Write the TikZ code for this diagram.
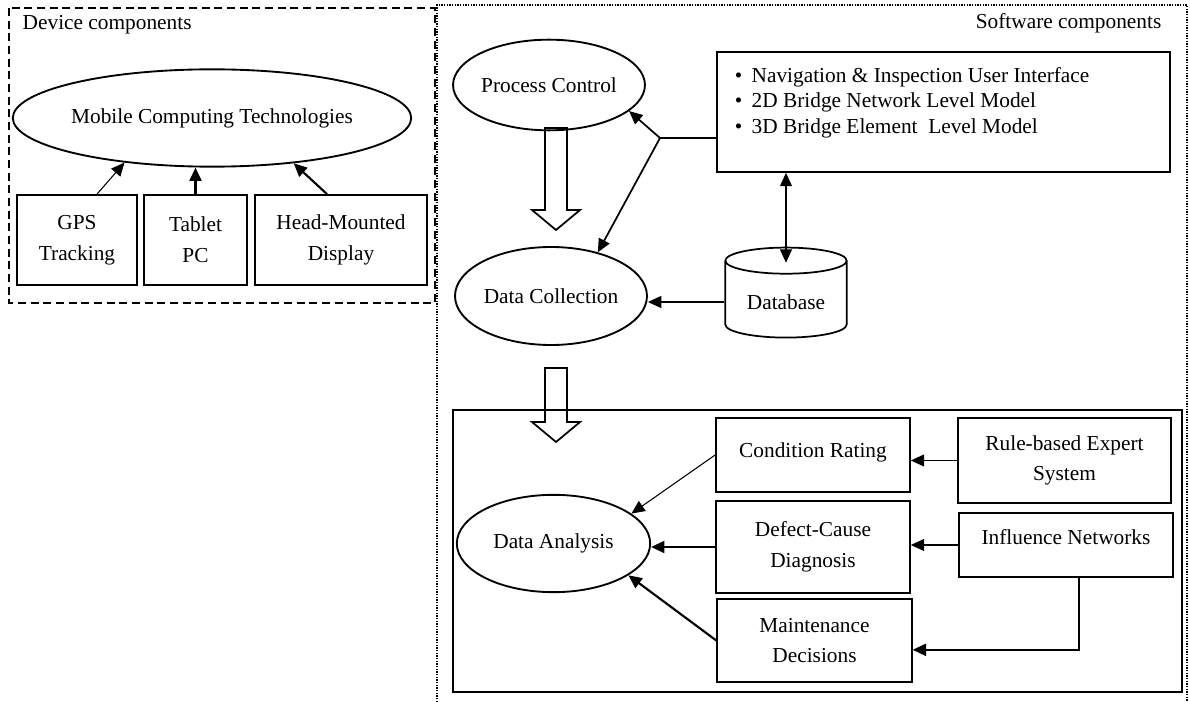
\documentclass[tikz,border=0pt]{standalone}
\usepackage{fontspec}
\setmainfont{Liberation Serif}
\usetikzlibrary{arrows.meta,shapes.geometric}

\begin{document}
\begin{tikzpicture}[x=0.75pt, y=-0.75pt,
        every node/.style={font=\fontsize{16}{23}\selectfont},
        box/.style={draw, line width=1.3pt, align=center, inner sep=0pt},
        oval/.style={draw, ellipse, line width=1.4pt, inner sep=0pt},
        thinarrow/.style={-{Triangle[length=10pt,width=9pt]}, line width=0.8pt},
        thickarrow/.style={-{Triangle[length=10pt,width=9pt]}, line width=1.6pt},
        hollowarrow/.pic={\draw[line width=1.3pt] (-11,0) -- (-11,#1-20) -- (-24,#1-20) -- (0,#1) -- (24,#1-20) -- (11,#1-20) -- (11,0) -- cycle;}]
                \useasboundingbox (0,0) rectangle (1190,702);
                % containers
                \draw[line width=1.4pt, dash pattern=on 6pt off 3.5pt] (9,8) rectangle (435,303);
                \draw[line width=0.8pt, dash pattern=on 1pt off 1pt] (437,702) -- (437,5) -- (1187,5) -- (1187,702);
                \draw[line width=1.3pt] (453,410) rectangle (1182,692);
                \node[anchor=west] (devlabel) at (18,25) {Device components};
                \node[anchor=east] (swlabel) at (1166,23) {Software components};
                % device components
                \node[oval, minimum width=254pt, minimum height=73pt] (mct) at (212,118) {Mobile Computing Technologies};
                \node[box, minimum width=90pt, minimum height=67.5pt] (gps) at (77,240) {GPS\\Tracking};
                \node[box, minimum width=77pt, minimum height=67.5pt] (tab) at (195.5,240) {Tablet\\PC};
                \node[box, minimum width=129pt, minimum height=67.5pt] (hmd) at (341,240) {Head-Mounted\\Display};
                \draw[thinarrow] ([xshift=15pt]gps.north) -- (mct.-153);
                \draw[thickarrow] (tab.north) -- (tab.north |- mct.south);
                \draw[thickarrow] ([xshift=-10.5pt]hmd.north) -- (mct.-29);
                % software components
                \node[oval, minimum width=142pt, minimum height=68pt] (pc) at (549,85) {Process Control};
                \node[oval, minimum width=144pt, minimum height=73.5pt] (dc) at (551,296) {Data Collection};
                \node[box, minimum width=340pt, minimum height=90pt] (ui) at (943.5,112) {};
                \node[anchor=north west, align=left, inner sep=0pt, font=\fontsize{16}{19}\selectfont] (uitext) at ([xshift=14pt, yshift=-12pt]ui.north west)
                    {\textbullet\hspace{7pt}Navigation \& Inspection User Interface\\
                     \textbullet\hspace{7pt}2D Bridge Network Level Model\\
                     \textbullet\hspace{7pt}3D Bridge Element\ \ Level Model};
                \node[draw, cylinder, shape border rotate=90, aspect=0.3, line width=1.3pt, minimum width=91pt, minimum height=67.5pt] (db) at (786,302) {Database};
                \coordinate (fork) at (660,138);
                \draw[line width=1.3pt] (fork -| ui.west) -- (fork);
                \draw[thickarrow, line width=1.3pt] (fork) -- (pc.-18);
                \draw[thickarrow, line width=1.3pt] (fork) -- (dc.43);
                \draw[thinarrow, {Triangle[length=10pt,width=9pt]}-{Triangle[length=10pt,width=9pt]}] (db.north |- ui.south) -- ([yshift=-12pt]db.north);
                \draw[thinarrow] (db.west) -- (dc.east |- db.west);
                \pic at (556,128) {hollowarrow=102};
                \pic at (556,368) {hollowarrow=74};
                % data analysis
                \node[oval, minimum width=145pt, minimum height=73pt] (da) at (553.5,543.5) {Data Analysis};
                \node[box, minimum width=145.5pt, minimum height=55.5pt, text depth=8pt] (cr) at (813,455) {Condition Rating};
                \node[box, minimum width=145.5pt, minimum height=69pt] (dcd) at (813,547) {Defect-Cause\\Diagnosis};
                \node[box, minimum width=146pt, minimum height=62pt] (md) at (814.5,640.5) {Maintenance\\Decisions};
                \node[box, minimum width=160pt, minimum height=64pt] (rule) at (1064.5,460.5) {Rule-based Expert\\System};
                \node[box, minimum width=160.5pt, minimum height=48pt, text depth=12pt] (infl) at (1066,545) {Influence Networks};
                \draw[thinarrow] (cr.west) -- (da.21);
                \draw[thickarrow] (dcd.west) -- (da.east |- dcd.west);
                \draw[thickarrow] (md.west) -- (da.-23);
                \draw[thinarrow] (rule.west) -- (rule.west -| cr.east);
                \draw[thinarrow] (infl.west) -- (infl.west -| dcd.east);
                \draw[thickarrow] ([xshift=10pt]infl.south) |- ([yshift=-7pt]md.east);
            \end{tikzpicture}
\end{document}
